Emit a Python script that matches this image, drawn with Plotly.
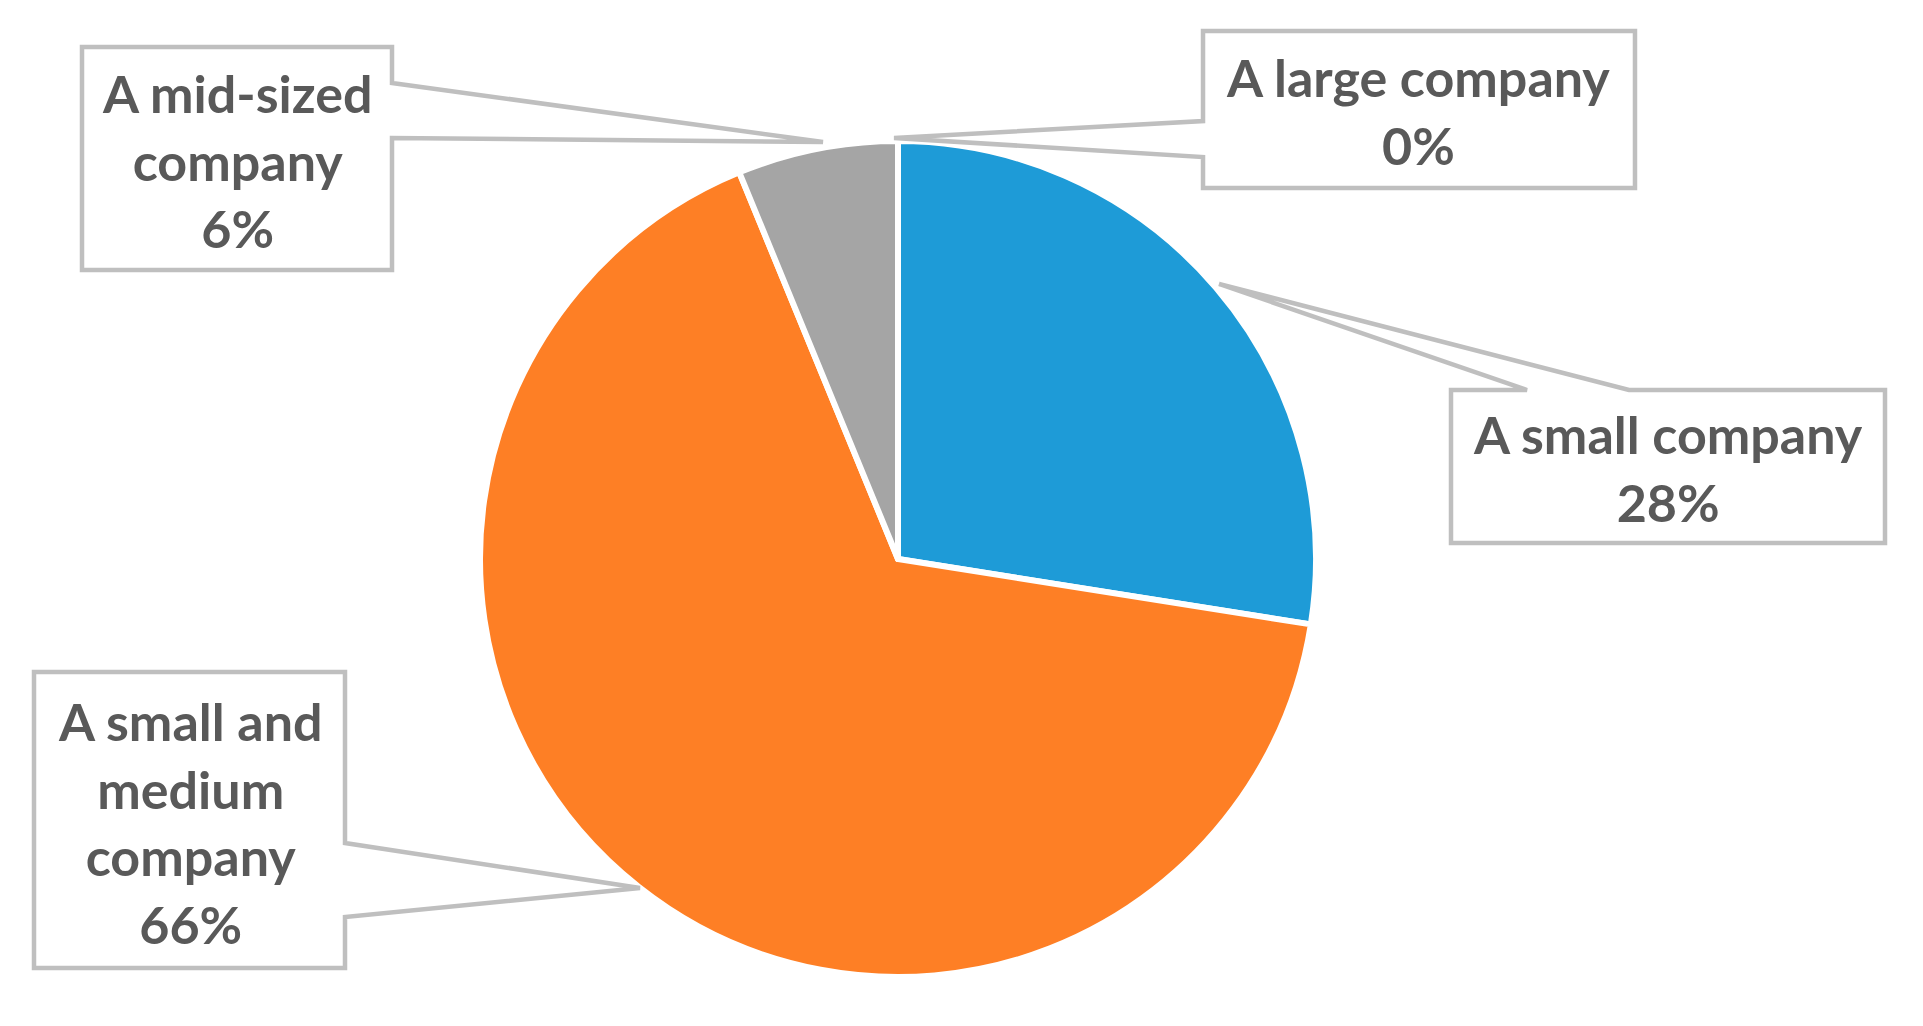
import plotly.graph_objects as go

# ---- data ----
categories = ["A small company", "A small and medium company", "A mid-sized company", "A large company"]
shares = [27.5, 66.3, 6.2, 0.0]
label_text = ["A small company", "A small and<br>medium<br>company", "A mid-sized<br>company", "A large company"]
colors = ["#1E9BD7", "#FE7F25", "#A5A5A5", "#4472C4"]

W, H = 1923, 1026
cx, cy, R = 898, 559, 418


def px(x):
    return x / W


def py(y):
    return 1 - y / H


fig = go.Figure(go.Pie(
    labels=categories,
    values=shares,
    sort=False,
    direction="clockwise",
    rotation=0,
    textinfo="none",
    hoverinfo="label+percent",
    marker=dict(colors=colors, line=dict(color="white", width=6)),
    domain=dict(x=[px(cx - R), px(cx + R)], y=[py(cy + R), py(cy - R)]),
    showlegend=False,
))

# callout boxes (pixel geometry -> paper coords): polygon outline incl. pointer
callouts = [
    ([(82, 47), (392, 47), (392, 83), (823, 142), (392, 138), (392, 270), (82, 270)], (237, 160), 2),
    ([(1203, 31), (1635, 31), (1635, 188), (1203, 188), (1203, 157), (894, 138), (1203, 121)], (1418, 111), 3),
    ([(1451, 390), (1527, 390), (1219, 284), (1629, 390), (1885, 390), (1885, 543), (1451, 543)], (1668, 468), 0),
    ([(34, 672), (345, 672), (345, 843), (640, 888), (345, 917), (345, 968), (34, 968)], (190, 822), 1),
]

shapes = []
annotations = []
for pts, (tx, ty), idx in callouts:
    path = "M " + " L ".join(f"{px(x):.5f},{py(y):.5f}" for x, y in pts) + " Z"
    shapes.append(dict(type="path", xref="paper", yref="paper", path=path,
                       fillcolor="white", line=dict(color="#BFBFBF", width=4.5), layer="above"))
    annotations.append(dict(
        x=px(tx), y=py(ty), xref="paper", yref="paper", showarrow=False,
        text=f"<b>{label_text[idx]}<br>{shares[idx]:.0f}%</b>",
        font=dict(family="Lato", size=52, color="#595959"),
        align="center", xanchor="center", yanchor="middle",
    ))

fig.update_layout(
    width=W, height=H,
    margin=dict(l=0, r=0, t=0, b=0),
    paper_bgcolor="white", plot_bgcolor="white",
    shapes=shapes, annotations=annotations,
)

fig.write_html("out.html", config={"displayModeBar": False},
               post_script="document.body.style.margin='0';")
